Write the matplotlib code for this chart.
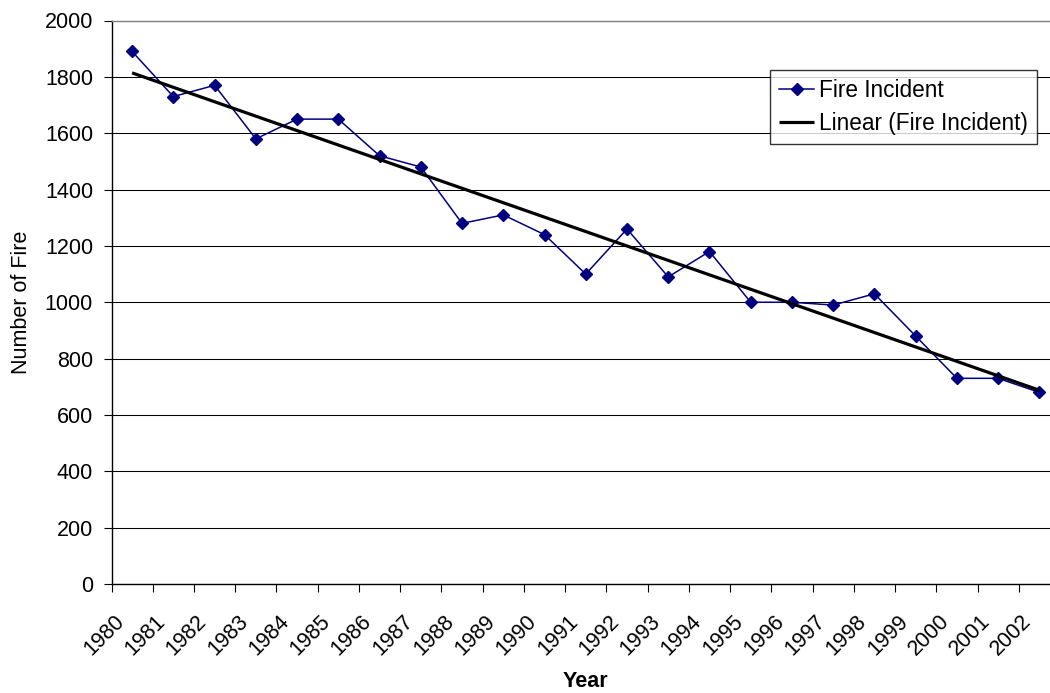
import numpy as np
import matplotlib
matplotlib.use("Agg")
import matplotlib.pyplot as plt
from matplotlib.transforms import ScaledTranslation

years = [str(y) for y in range(1980, 2003)]
fire_incidents = [1890, 1730, 1770, 1580, 1650, 1650, 1520, 1480, 1280, 1310,
                  1240, 1100, 1260, 1090, 1180, 1000, 1000, 990, 1030, 880,
                  730, 730, 680]
y_ticks = list(range(0, 2001, 200))

plt.rcParams['font.family'] = ['Liberation Sans', 'DejaVu Sans']
FS = 15.5

W, H = 1050, 693
fig = plt.figure(figsize=(W / 100, H / 100), dpi=100)
left_px, right_px, top_px, bottom_px = 111.5, 1060.0, 20.5, 584.0
ax = fig.add_axes([left_px / W, (H - bottom_px) / H,
                   (right_px - left_px) / W, (bottom_px - top_px) / H])

x = np.arange(len(years))
coef = np.polyfit(x, fire_incidents, 1)
trend = np.polyval(coef, x)

ax.plot(x, fire_incidents, color='#000080', lw=1.1, marker='D', ms=6.3,
        mec='#000080', mfc='#000080', label='Fire Incident', zorder=3)
ax.plot(x, trend, color='black', lw=2.3, label='Linear (Fire Incident)',
        zorder=4, solid_capstyle='butt')

ax.set_xlim(-0.5, len(years) - 0.5)
ax.set_ylim(0, 2000)

ax.set_yticks(y_ticks)
ax.set_yticklabels([str(v) for v in y_ticks], fontsize=FS)
ax.tick_params(axis='y', direction='out', length=5.8, width=0.8, pad=7.5,
               colors='black')
ax.yaxis.grid(True, color='black', lw=0.75)
ax.set_axisbelow(True)

ax.set_xticks(x)
ax.set_xticklabels(years, fontsize=FS)
ax.set_xticks(np.arange(-0.5, len(years), 1.0), minor=True)
ax.tick_params(axis='x', which='major', length=0, pad=24.5)
ax.tick_params(axis='x', which='minor', direction='out', length=5.8, width=0.8)
offset = ScaledTranslation(-11 / 100, 0, fig.dpi_scale_trans)
for lab in ax.get_xticklabels():
    lab.set_rotation(45)
    lab.set_ha('right')
    lab.set_va('center')
    lab.set_rotation_mode('anchor')
    lab.set_transform(lab.get_transform() + offset)

for s in ['left', 'bottom']:
    ax.spines[s].set_color('black')
    ax.spines[s].set_linewidth(1.0)
ax.spines['top'].set_color('#808080')
ax.spines['top'].set_linewidth(1.0)
ax.spines['right'].set_visible(False)

ax.set_xlabel('Year', fontsize=FS, fontweight='bold')
ax.xaxis.set_label_coords(0.5, -0.154)
ax.set_ylabel('Number of Fire', fontsize=FS)
ax.yaxis.set_label_coords(-0.0835, 0.5)

leg = ax.legend(loc='upper left', bbox_to_anchor=(770 / W, 1 - 70 / H),
                bbox_transform=fig.transFigure, fontsize=16.3, frameon=True,
                fancybox=False, shadow=False, borderpad=0.4,
                handlelength=1.55, handletextpad=0.22, labelspacing=0.45,
                borderaxespad=0)
leg.get_frame().set_edgecolor('black')
leg.get_frame().set_linewidth(1.0)

fig.savefig('out.png', dpi=100)
